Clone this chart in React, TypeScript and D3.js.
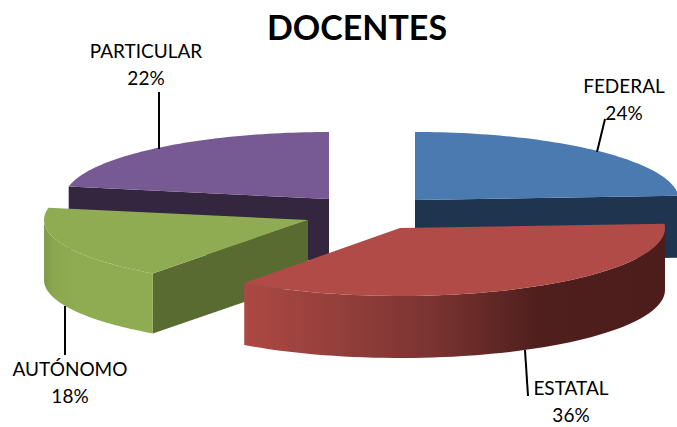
import React from "react";
import * as d3 from "d3";

const categories = ["FEDERAL", "ESTATAL", "AUTÓNOMO", "PARTICULAR"];
const percents = [24, 36, 18, 22];
const topColors = ["#4a7ab0", "#b04b47", "#90ac52", "#775a94"];
const sideColors = ["#1f344f", "#b04b47", "#5a6b32", "#35263f"];
const apexX = [415, 400, 308, 329];
const apexY = [200, 228, 220, 199];
const depths = [62, 62, 60, 62];
const radiiX = [264, 265, 264, 265];
const radiiY = [68, 68, 66, 67];
const labelX = [624, 571, 70, 146];
const labelY = [93, 395, 376, 58];
const leaders = [
  [[597, 152], [605, 119]],
  [[525, 350], [528, 396]],
  [[65, 306], [65, 355]],
  [[159, 149], [159, 92]],
];
const drawOrder = [3, 0, 2, 1];

const pie = d3.pie<number>().sort(null).startAngle(0).endAngle(2 * Math.PI);
const arcs = pie(percents);
const lineGen = d3.line<[number, number]>().curve(d3.curveLinear);

function rim(i: number, a0: number, a1: number): [number, number][] {
  const n = 60;
  const t = d3.scaleLinear().domain([0, n]).range([a0, a1]);
  return d3.range(n + 1).map((k) => {
    const a = t(k);
    return [apexX[i] + radiiX[i] * Math.sin(a), apexY[i] - radiiY[i] * Math.cos(a)] as [number, number];
  });
}

function Slice({ i }: { i: number }) {
  const { startAngle: a0, endAngle: a1 } = arcs[i];
  const top = rim(i, a0, a1);
  const apex: [number, number] = [apexX[i], apexY[i]];
  const d = depths[i];
  const down = (p: [number, number]): [number, number] => [p[0], p[1] + d];

  // radial wall that faces the viewer
  const wallEdge = i === 0 ? top[top.length - 1] : i === 1 ? null : top[0];
  const wall = wallEdge != null ? [apex, wallEdge, down(wallEdge), down(apex)] : null;

  // outer rim, only where it faces down the page
  const front = top.filter((_, k) => {
    const a = a0 + ((a1 - a0) * k) / 60;
    return Math.cos(a) <= 0.02;
  });
  const hasFront = i === 1 || i === 2;
  const rimPath = hasFront ? [...front, ...front.slice().reverse().map(down)] : null;
  const fill = i === 1 ? "url(#redRim)" : i === 2 ? "url(#greenRim)" : sideColors[i];

  return (
    <g>
      {i === 3 && (
        <path
          d={lineGen([apex, top[top.length - 1], down(top[top.length - 1]), down(apex)]) + "Z"}
          fill={sideColors[i]}
        />
      )}
      {wall && <path d={lineGen(wall) + "Z"} fill={sideColors[i]} />}
      {rimPath && <path d={lineGen(rimPath) + "Z"} fill={fill} />}
      <path d={lineGen([apex, ...top]) + "Z"} fill={topColors[i]} />
    </g>
  );
}

export default function App() {
  return (
    <svg
      width={677}
      height={427}
      viewBox="0 0 677 427"
      style={{ position: "absolute", left: 0, top: 0, background: "#fff", fontFamily: "Lato, 'Open Sans', sans-serif" }}
    >
      <defs>
        <linearGradient id="redRim" x1="0" x2="1" y1="0" y2="0">
          <stop offset="0" stopColor="#ad4844" />
          <stop offset="0.2" stopColor="#96403c" />
          <stop offset="0.45" stopColor="#7a3331" />
          <stop offset="0.7" stopColor="#4f1f1d" />
          <stop offset="1" stopColor="#4d1d1b" />
        </linearGradient>
        <linearGradient id="greenRim" x1="0" x2="1" y1="0" y2="0">
          <stop offset="0" stopColor="#7f9a49" />
          <stop offset="0.1" stopColor="#8ca84f" />
          <stop offset="0.3" stopColor="#90ac52" />
          <stop offset="1" stopColor="#90ac52" />
        </linearGradient>
      </defs>
      <text x={357} y={40} textAnchor="middle" fontSize={34} fontWeight={700} fill="#000">
        DOCENTES
      </text>
      {drawOrder.map((i) => (
        <Slice key={i} i={i} />
      ))}
      {leaders.map((l, i) => (
        <path key={i} d={lineGen(l as [number, number][]) ?? ""} stroke="#000" strokeWidth={2} fill="none" />
      ))}
      {categories.map((c, i) => (
        <text key={c} textAnchor="middle" fontSize={19} fill="#000">
          <tspan x={labelX[i]} y={labelY[i]}>{c}</tspan>
          <tspan x={labelX[i]} y={labelY[i] + 27}>{percents[i]}%</tspan>
        </text>
      ))}
    </svg>
  );
}
